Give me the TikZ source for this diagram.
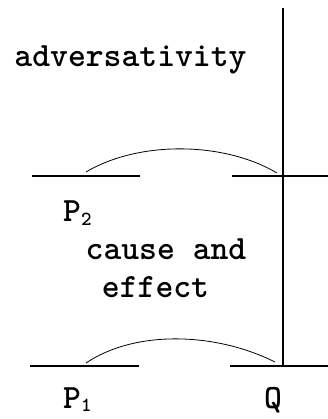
\documentclass[tikz,border=0pt]{standalone}
\usepackage{fontspec}
\newcommand{\sbig}{\fontsize{34}{36}\selectfont\ttfamily\bfseries}
\newcommand{\ssub}[1]{\raisebox{-3pt}{\fontsize{20}{20}\selectfont\ttfamily\bfseries #1}}
\begin{document}
\begin{tikzpicture}[x=1pt,y=-1pt,
  txt/.style={inner sep=0pt,font=\sbig},
  thick line/.style={line width=1.8pt},
  arcline/.style={line width=0.8pt}]
\useasboundingbox (0,0) rectangle (328,419);
% coordinates
\coordinate (vtop) at (283,8);
\coordinate (vbot) at (283,366);
\coordinate (ul1) at (32,176);
\coordinate (ul2) at (140,176);
\coordinate (ur1) at (232,176);
\coordinate (ur2) at (328,176);
\coordinate (ll1) at (30,366);
\coordinate (ll2) at (139,366);
\coordinate (lr1) at (230,366);
\coordinate (lr2) at (328,366);
\coordinate (ua1) at (86,172);
\coordinate (ua2) at (277,173);
\coordinate (la1) at (86,363);
\coordinate (la2) at (275,362);
% lines
\draw[thick line] (vtop) -- (vbot);
\draw[thick line] (ul1) -- (ul2);
\draw[thick line] (ur1) -- (ur2);
\draw[thick line] (ll1) -- (ll2);
\draw[thick line] (lr1) -- (lr2);
% arcs
\draw[arcline] (ua1) .. controls (140,140) and (225,142) .. (ua2);
\draw[arcline] (la1) .. controls (135,330) and (215,332) .. (la2);
% texts
\node[txt,anchor=base] (adv) at (130.5,67) {adversativity};
\node[txt,anchor=base west] (p2) at (63,222) {P\ssub{2}};
\node[txt,anchor=base] (cause) at (166,259) {cause and};
\node[txt,anchor=base] (effect) at (155.5,297) {effect};
\node[txt,anchor=base west] (p1) at (63,408) {P\ssub{1}};
\node[txt,anchor=base] (q) at (273,408) {Q};
\end{tikzpicture}
\end{document}
